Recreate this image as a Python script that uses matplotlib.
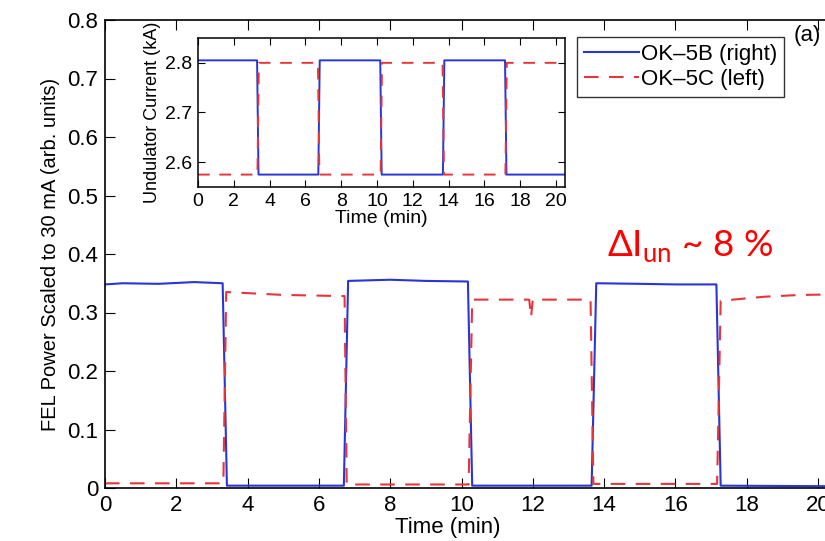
import matplotlib
matplotlib.use("Agg")
import matplotlib.pyplot as plt
from matplotlib.ticker import FuncFormatter

plt.rcParams["font.family"] = ["Liberation Sans", "DejaVu Sans"]
plt.rcParams["mathtext.fontset"] = "custom"
plt.rcParams["mathtext.rm"] = "Lato"

BLUE = "#2a35d8"
RED = "#e4363c"

# main panel: FEL power (arb. units) vs time (min)
t_5b = [0, 0.5, 1.5, 2.5, 3.3, 3.42, 6.7, 6.82, 8.0, 9.0, 10.18, 10.3,
        13.65, 13.78, 15.0, 16.0, 17.15, 17.27, 20.5]
p_5b = [0.348, 0.350, 0.349, 0.352, 0.350, 0.004, 0.004, 0.354, 0.356, 0.354,
        0.353, 0.004, 0.004, 0.350, 0.349, 0.348, 0.348, 0.004, 0.003]

t_5c = [0, 3.32, 3.4, 5.0, 6.72, 6.78, 10.2, 10.3, 11.9, 11.95, 12.0, 13.62,
        13.7, 17.17, 17.27, 18.5, 19.5, 20.5]
p_5c = [0.008, 0.008, 0.335, 0.330, 0.328, 0.006, 0.006, 0.322, 0.322, 0.292,
        0.322, 0.322, 0.007, 0.007, 0.320, 0.327, 0.330, 0.331]

# inset: undulator current (kA)
ti_5b = [0, 3.3, 3.38, 6.72, 6.8, 10.18, 10.26, 13.68, 13.76, 17.15, 17.23, 20.5]
i_5b = [2.805, 2.805, 2.575, 2.575, 2.805, 2.805, 2.575, 2.575, 2.805, 2.805,
        2.575, 2.575]
ti_5c = [0, 3.32, 3.4, 6.7, 6.78, 10.2, 10.28, 13.66, 13.74, 17.17, 17.25, 20.5]
i_5c = [2.575, 2.575, 2.800, 2.800, 2.575, 2.575, 2.800, 2.800, 2.575, 2.575,
        2.800, 2.800]

fig = plt.figure(figsize=(8.25, 5.41), dpi=100)
ax_w = 20.5 * 35.65 / 825
ax = fig.add_axes([105 / 825, 53 / 541, ax_w, 468 / 541])

ax.plot(t_5b, p_5b, color=BLUE, lw=1.5, label="OK\u20135B (right)")
ax.plot(t_5c, p_5c, color=RED, lw=1.5, ls=(0, (7, 5)), label="OK\u20135C (left)")
ax.set_xlim(0, 20.5)
ax.set_ylim(0, 0.8)
ax.set_xticks(range(0, 21, 2))
ax.set_yticks([0, 0.1, 0.2, 0.3, 0.4, 0.5, 0.6, 0.7, 0.8])
ax.yaxis.set_major_formatter(FuncFormatter(lambda v, _: "0" if v == 0 else f"{v:.1f}"))
ax.tick_params(direction="in", top=True, right=True, labelsize=16, length=7, pad=5)
ax.set_xlabel("Time (min)", fontsize=16)
ax.xaxis.set_label_coords((448 - 105) / (ax_w * 825), -0.061)
ax.set_ylabel("FEL Power Scaled to 30 mA (arb. units)", fontsize=14.5, labelpad=5)
for s in ax.spines.values():
    s.set_linewidth(1.2)

leg = ax.legend(loc="upper left", bbox_to_anchor=(577 / 825, 1 - 37 / 541),
                bbox_transform=fig.transFigure, fontsize=16, frameon=True,
                fancybox=False, edgecolor="black", handlelength=2.5,
                handletextpad=0.1, borderpad=0.3, labelspacing=0.2,
                borderaxespad=0)
leg.get_frame().set_linewidth(1.0)

fig.text(794 / 825, 1 - 36 / 541, "(a)", fontsize=16, va="center", ha="left")

ax.text(607 / 825, 1 - 257 / 541, r"$\Delta$I$_{\mathrm{un}}$ ~ 8 %",
        transform=fig.transFigure, color="red", fontsize=26.5,
        family="Lato", ha="left", va="baseline")

# inset
ins = fig.add_axes([198 / 825, 1 - 187 / 541, 367 / 825, 149 / 541])
ins.plot(ti_5b, i_5b, color=BLUE, lw=1.4)
ins.plot(ti_5c, i_5c, color=RED, lw=1.4, ls=(0, (6, 5)))
ins.set_xlim(0, 20.5)
ins.set_ylim(2.55, 2.85)
ins.set_xticks(range(0, 21, 2))
ins.set_yticks([2.6, 2.7, 2.8])
ins.tick_params(direction="in", top=True, right=True, labelsize=14, length=5, pad=4)
ins.set_xlabel("Time (min)", fontsize=14, labelpad=0)
ins.set_ylabel("Undulator Current (kA)", fontsize=13, labelpad=3)
for s in ins.spines.values():
    s.set_linewidth(1.1)

fig.savefig("out.png", dpi=100)
